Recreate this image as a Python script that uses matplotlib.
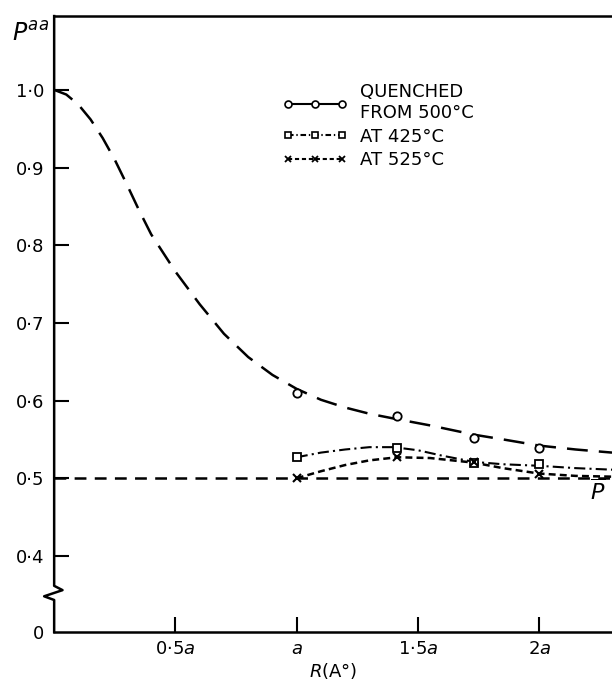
import numpy as np
import matplotlib
matplotlib.use('Agg')
import matplotlib.pyplot as plt
from matplotlib.lines import Line2D

plt.rcParams['font.family'] = ['DejaVu Sans']
plt.rcParams['mathtext.fontset'] = 'dejavusans'
plt.rcParams['lines.scale_dashes'] = False

# measured points, R in units of a (shells a, sqrt2 a, sqrt3 a, 2a)
r_pts = [1.0, 1.414, 1.732, 2.0]
quenched_pts = [0.610, 0.580, 0.552, 0.539]
at425_pts = [0.527, 0.539, 0.520, 0.518]
at525_pts = [0.500, 0.527, 0.521, 0.506]

# drawn curves
quenched_cx = [0, 0.05, 0.1, 0.15, 0.2, 0.25, 0.3, 0.35, 0.4, 0.5, 0.6, 0.7, 0.8, 0.9,
               1.0, 1.1, 1.2, 1.3, 1.414, 1.55, 1.732, 1.85, 2.0, 2.15, 2.3]
quenched_cy = [1.0, 0.994, 0.981, 0.962, 0.938, 0.91, 0.878, 0.845, 0.814, 0.766, 0.724, 0.686,
               0.656, 0.633, 0.615, 0.601, 0.591, 0.583, 0.576, 0.568, 0.556, 0.550, 0.542, 0.537, 0.533]
at425_cx = [1.0, 1.1, 1.2, 1.3, 1.4, 1.5, 1.6, 1.732, 1.85, 2.0, 2.15, 2.3]
at425_cy = [0.527, 0.533, 0.537, 0.540, 0.540, 0.536, 0.529, 0.521, 0.518, 0.516, 0.513, 0.511]
at525_cx = [1.0, 1.1, 1.2, 1.3, 1.414, 1.55, 1.732, 1.85, 2.0, 2.15, 2.3]
at525_cy = [0.500, 0.509, 0.517, 0.523, 0.527, 0.526, 0.520, 0.513, 0.506, 0.503, 0.502]
pbar_x = [0, 2.3]
pbar_y = [0.5, 0.5]

ytick_vals = [0.302, 0.4, 0.5, 0.6, 0.7, 0.8, 0.9, 1.0]
ytick_labels = ['0', '0·4', '0·5', '0·6', '0·7', '0·8', '0·9', '1·0']
xtick_vals = [0.5, 1.0, 1.5, 2.0]
xtick_labels = ['0·5$a$', '$a$', '1·5$a$', '2$a$']

fig = plt.figure(figsize=(6.12, 6.84), dpi=100)
ax = fig.add_axes([0.0885, 0.076, 0.9115, 0.9005])

lw = 1.8
ax.plot(quenched_cx, quenched_cy, color='black', lw=lw, ls=(0, (15, 8)))
ax.plot(pbar_x, pbar_y, color='black', lw=lw, ls=(0, (8.5, 6)))
ax.plot(at425_cx, at425_cy, color='black', lw=1.5, ls=(0, (8, 3, 1.5, 3)))
ax.plot(at525_cx, at525_cy, color='black', lw=lw, ls=(0, (5, 3)))

ax.plot(r_pts, quenched_pts, 'o', ms=6, mfc='white', mec='black', mew=1.3, ls='none')
ax.plot(r_pts, at425_pts, 's', ms=6, mfc='white', mec='black', mew=1.3, ls='none')
ax.plot(r_pts, at525_pts, 'x', ms=5.5, mec='black', mew=1.5, ls='none')

ax.set_xlim(0, 2.3)
ax.set_ylim(0.302, 1.095)

ax.set_yticks(ytick_vals)
ax.set_yticklabels(ytick_labels)
ax.set_xticks(xtick_vals)
ax.set_xticklabels(xtick_labels)
ax.tick_params(axis='both', direction='in', length=11, width=1.5, labelsize=13)
ax.tick_params(axis='y', pad=7)
ax.tick_params(axis='x', pad=6)
ax.yaxis.get_major_ticks()[0].tick1line.set_visible(False)

for s in ['right', 'left']:
    ax.spines[s].set_visible(False)
ax.spines['top'].set_linewidth(1.8)
ax.spines['bottom'].set_linewidth(1.8)

# left axis with break
ax.plot([0, 0, 0.015, -0.018, 0, 0], [1, 0.075, 0.068, 0.058, 0.052, 0],
        transform=ax.transAxes, color='black', lw=1.8, clip_on=False)

ax.text(-0.075, 0.972, r'$P^{aa}$', transform=ax.transAxes, fontsize=17, ha='left', va='center')
ax.text(2.24, 0.483, r'$\overline{P}$', fontsize=16, ha='center', va='center')
ax.set_xlabel(r'$R$(A°)', fontsize=13, labelpad=2)

handles = [
    Line2D([], [], color='black', lw=1.5, marker='o', ms=5, mfc='white', mew=1.2),
    Line2D([], [], color='black', lw=1.5, ls=(0, (4, 2, 1, 2)), marker='s', ms=5, mfc='white', mew=1.2),
    Line2D([], [], color='black', lw=1.5, ls=(0, (3, 2)), marker='x', ms=5, mew=1.3),
]
labels = ['QUENCHED\nFROM 500°C', 'AT 425°C', 'AT 525°C']
ax.legend(handles, labels, numpoints=3, frameon=False, fontsize=13, handlelength=3.6,
          handletextpad=0.7, labelspacing=0.3, loc='upper left', bbox_to_anchor=(0.38, 0.917))

fig.savefig('out.png', dpi=100)
